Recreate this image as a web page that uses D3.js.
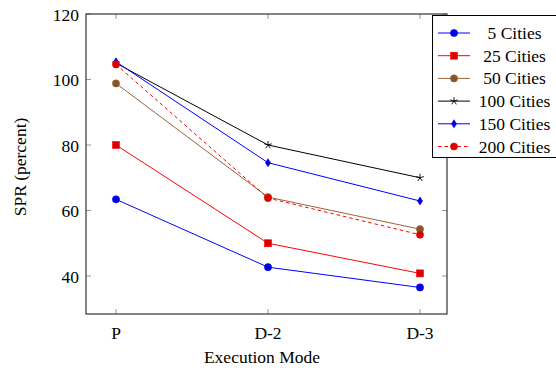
<!DOCTYPE html>
<html>
<head>
<meta charset="utf-8">
<script src="https://cdn.jsdelivr.net/npm/d3@7"></script>
<style>
  body { margin: 0; background: #fff; }
  svg text { font-family: "Liberation Serif", "DejaVu Serif", serif; fill: #000; }
</style>
</head>
<body>
<svg id="chart" width="556" height="370"></svg>
<script>
// Execution modes and SPR values per problem size
const modes = ['P', 'D-2', 'D-3'];
const yTicks = [40, 60, 80, 100, 120];

const cities5   = [63.4, 42.7, 36.5];
const cities25  = [80.0, 50.0, 40.8];
const cities50  = [98.8, 64.1, 54.3];
const cities100 = [105.0, 80.0, 70.0];
const cities150 = [105.4, 74.6, 62.9];
const cities200 = [104.6, 63.8, 52.6];

const series = [
  { name: '5 Cities',   values: cities5,   color: '#0000ff', mark: 'circle' },
  { name: '25 Cities',  values: cities25,  color: '#ff0000', mark: 'square' },
  { name: '50 Cities',  values: cities50,  color: '#996633', mark: 'circle' },
  { name: '100 Cities', values: cities100, color: '#000000', mark: 'star' },
  { name: '150 Cities', values: cities150, color: '#0000ff', mark: 'diamond' },
  { name: '200 Cities', values: cities200, color: '#ff0000', mark: 'circle', dashed: true }
];

const svg = d3.select('#chart');
const plot = { left: 86, right: 447, top: 14, bottom: 314 };
const fontSize = 17.5;

const x = d3.scalePoint().domain(modes).range([116, 420]);
const y = d3.scaleLinear().domain([28.4, 120]).range([plot.bottom, plot.top]);

// darker fill for markers (pgfplots style)
function markFill(c) {
  return d3.interpolateRgb(c, '#000')(0.15);
}

function drawMark(g, type, cx, cy, color) {
  const fill = markFill(color);
  if (type === 'circle') {
    g.append('circle').attr('cx', cx).attr('cy', cy).attr('r', 3.6)
      .attr('fill', fill).attr('stroke', color).attr('stroke-width', 0.6);
  } else if (type === 'square') {
    g.append('rect').attr('x', cx - 3.5).attr('y', cy - 3.5)
      .attr('width', 7).attr('height', 7)
      .attr('fill', fill).attr('stroke', color).attr('stroke-width', 0.6);
  } else if (type === 'diamond') {
    g.append('path')
      .attr('d', `M${cx},${cy - 4}L${cx + 2.6},${cy}L${cx},${cy + 4}L${cx - 2.6},${cy}Z`)
      .attr('fill', fill).attr('stroke', color).attr('stroke-width', 0.6);
  } else if (type === 'star') {
    let d = '';
    for (let i = 0; i < 5; i++) {
      const a = -Math.PI / 2 + i * 2 * Math.PI / 5;
      d += `M${cx},${cy}L${cx + 4 * Math.cos(a)},${cy + 4 * Math.sin(a)}`;
    }
    g.append('path').attr('d', d).attr('stroke', color).attr('stroke-width', 0.9).attr('fill', 'none');
  }
}

// ticks (inside, on all four sides)
const tickColor = '#9a9a9a';
yTicks.forEach(t => {
  svg.append('line').attr('x1', plot.left).attr('x2', plot.left + 5).attr('y1', y(t)).attr('y2', y(t))
    .attr('stroke', tickColor).attr('stroke-width', 1);
  svg.append('line').attr('x1', plot.right - 5).attr('x2', plot.right).attr('y1', y(t)).attr('y2', y(t))
    .attr('stroke', tickColor).attr('stroke-width', 1);
  svg.append('text').attr('x', plot.left - 7).attr('y', y(t) + 6.5).attr('text-anchor', 'end')
    .attr('font-size', fontSize).text(t);
});
modes.forEach(m => {
  svg.append('line').attr('x1', x(m)).attr('x2', x(m)).attr('y1', plot.bottom).attr('y2', plot.bottom - 5)
    .attr('stroke', tickColor).attr('stroke-width', 1);
  svg.append('line').attr('x1', x(m)).attr('x2', x(m)).attr('y1', plot.top).attr('y2', plot.top + 5)
    .attr('stroke', tickColor).attr('stroke-width', 1);
  svg.append('text').attr('x', x(m)).attr('y', plot.bottom + 25).attr('text-anchor', 'middle')
    .attr('font-size', fontSize).text(m);
});

// series lines + marks
const line = d3.line().x((d, i) => x(modes[i])).y(d => y(d));
series.forEach(s => {
  const g = svg.append('g');
  g.append('path').attr('d', line(s.values)).attr('fill', 'none')
    .attr('stroke', s.color).attr('stroke-width', 1)
    .attr('stroke-dasharray', s.dashed ? '3.5,3' : null);
  s.values.forEach((v, i) => drawMark(g, s.mark, x(modes[i]), y(v), s.color));
});

// axis frame
svg.append('rect').attr('x', plot.left).attr('y', plot.top)
  .attr('width', plot.right - plot.left).attr('height', plot.bottom - plot.top)
  .attr('fill', 'none').attr('stroke', '#333').attr('stroke-width', 1.2);

// axis labels
svg.append('text').attr('x', 262).attr('y', 363).attr('text-anchor', 'middle')
  .attr('font-size', fontSize).text('Execution Mode');
svg.append('text').attr('transform', 'translate(26,167) rotate(-90)')
  .attr('text-anchor', 'middle').attr('font-size', fontSize).text('SPR (percent)');

// legend
const lg = svg.append('g');
lg.append('rect').attr('x', 432.5).attr('y', 15.5).attr('width', 130).attr('height', 142)
  .attr('fill', '#fff').attr('stroke', '#000').attr('stroke-width', 1);
series.forEach((s, i) => {
  const ry = 33 + i * 22.7;
  lg.append('line').attr('x1', 438).attr('x2', 470).attr('y1', ry).attr('y2', ry)
    .attr('stroke', s.color).attr('stroke-width', 1)
    .attr('stroke-dasharray', s.dashed ? '3.5,3' : null);
  drawMark(lg, s.mark, 454, ry, s.color);
  lg.append('text').attr('x', 514.5).attr('y', ry + 6).attr('text-anchor', 'middle')
    .attr('font-size', fontSize).text(s.name);
});
</script>
</body>
</html>
